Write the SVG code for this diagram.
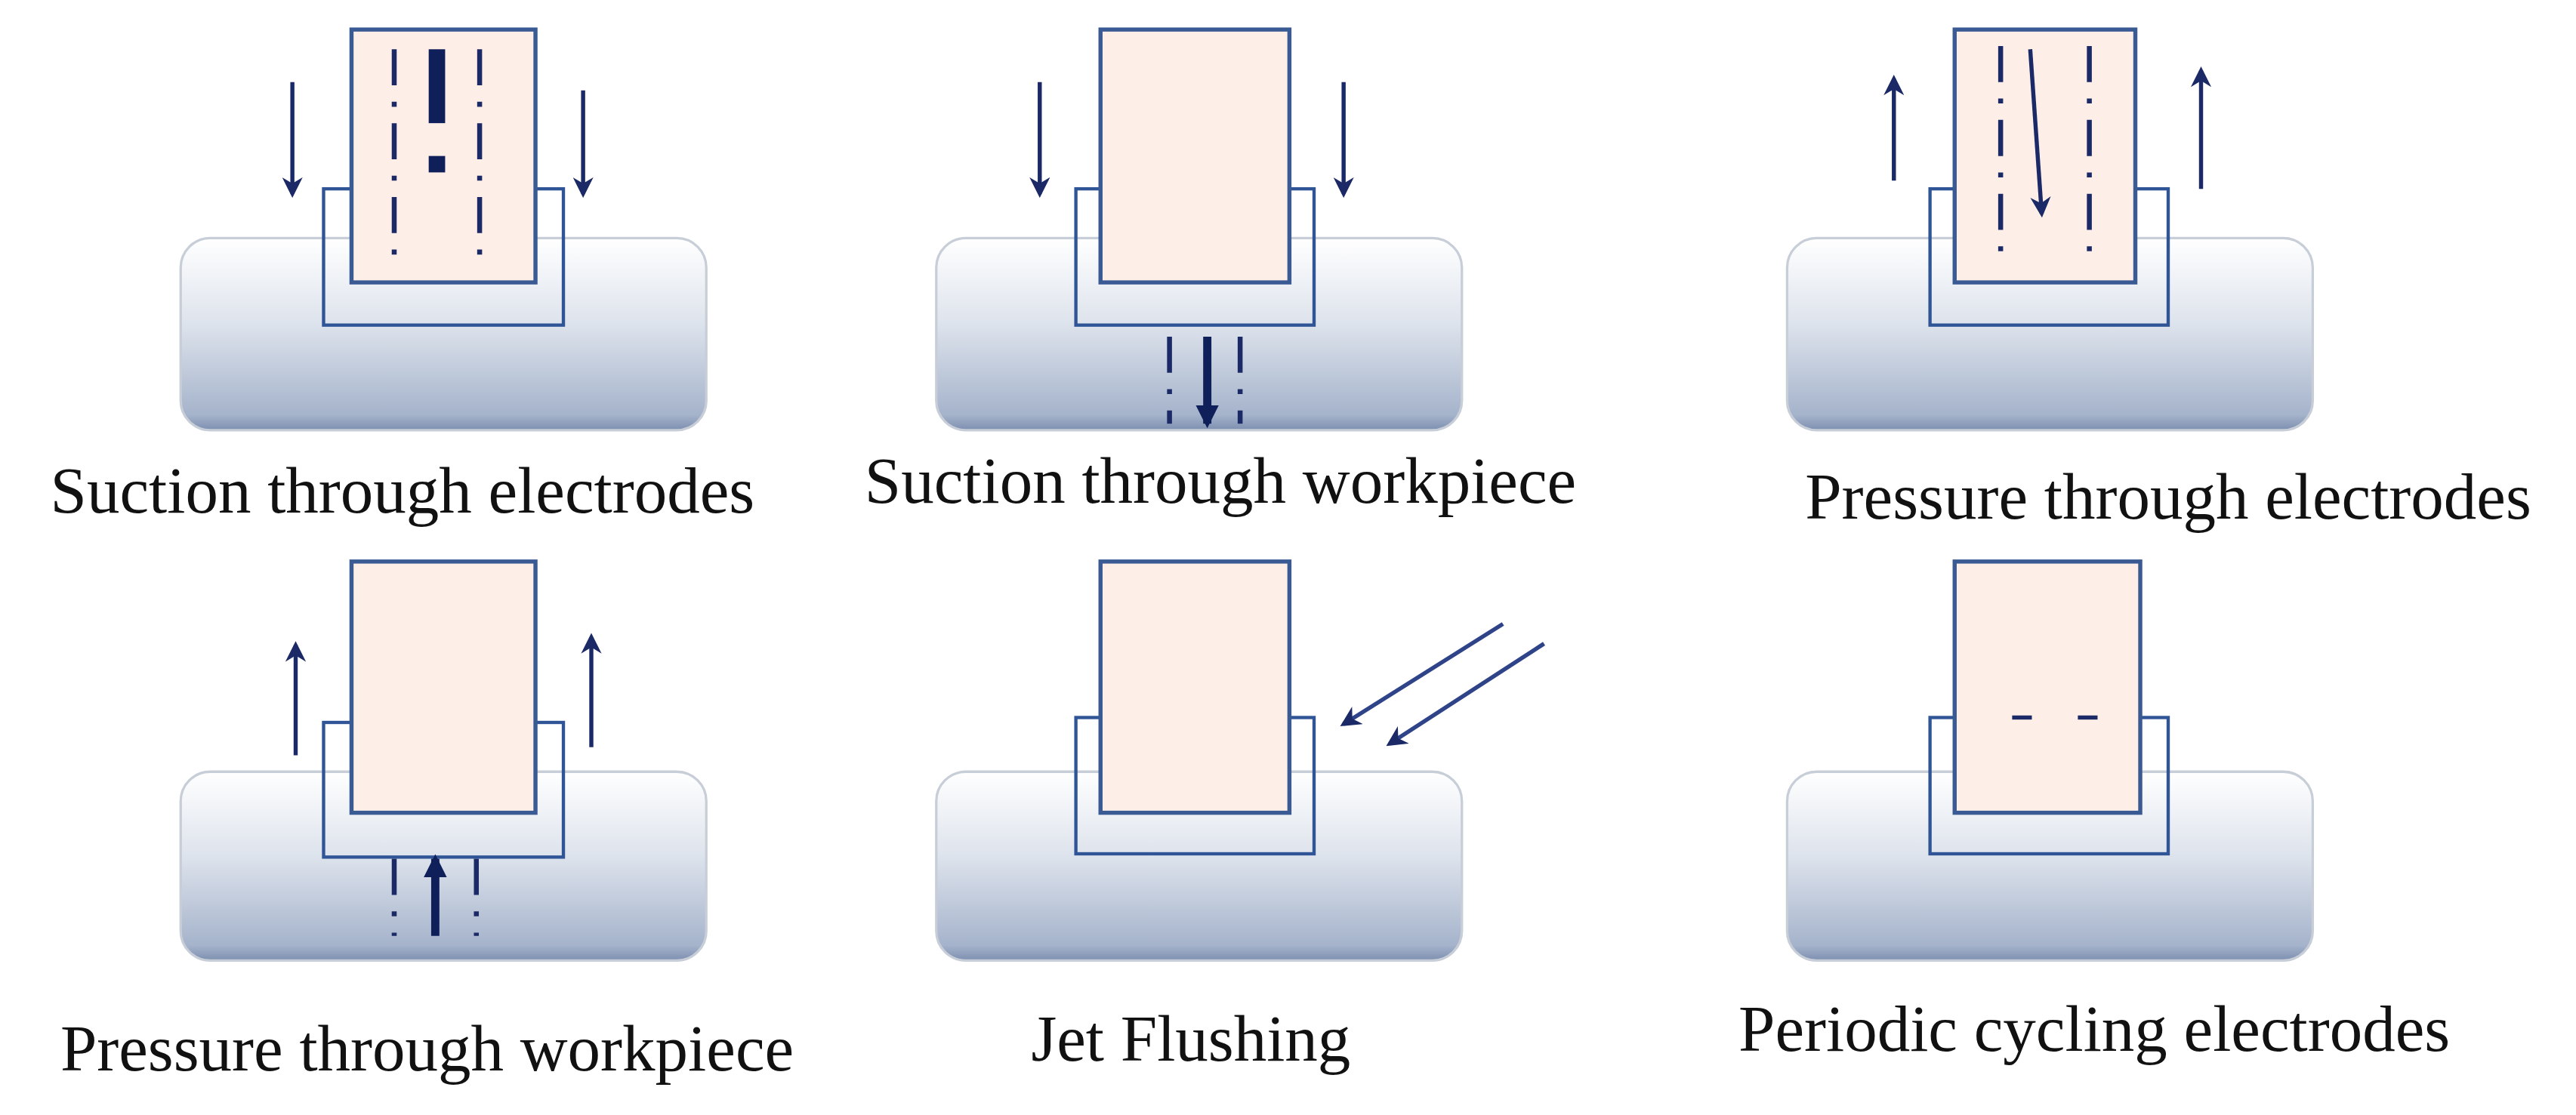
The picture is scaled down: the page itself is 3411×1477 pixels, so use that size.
<svg xmlns="http://www.w3.org/2000/svg" width="3411" height="1477" viewBox="0 0 3411 1477">
<defs>
<linearGradient id="wg" x1="0" y1="0" x2="0" y2="1">
<stop offset="0" stop-color="#ffffff"/><stop offset="0.45" stop-color="#dde3ec"/><stop offset="0.92" stop-color="#a5b3cb"/><stop offset="1" stop-color="#7d8fb0"/>
</linearGradient>
<marker id="ah" viewBox="0 0 10 10" refX="8" refY="5" markerWidth="5" markerHeight="5" orient="auto"><path d="M0,0 L10,5 L0,10 L3,5 z" fill="#1b2a66"/></marker>
<marker id="ahb" viewBox="0 0 10 10" refX="8" refY="5" markerWidth="2.8" markerHeight="2.8" orient="auto"><path d="M0,0 L10,5 L0,10 z" fill="#0f1f5a"/></marker>
<style>
.wp{fill:url(#wg);stroke:#c8ced8;stroke-width:1.5}
.cup{fill:none;stroke:#2f5597;stroke-width:2}
.el{fill:#fdeee8;stroke:#3a5a94;stroke-width:2.5}
.ar{stroke:#1b2a66;stroke-width:2.5;fill:none;marker-end:url(#ah)}
.arj{stroke:#2f4488;stroke-width:2.5;fill:none;marker-end:url(#ah)}
.big{stroke:#0f1f5a;stroke-width:5;fill:none;marker-end:url(#ahb)}
.dd{stroke:#1b2a66;stroke-width:3;stroke-dasharray:22 10 3 10;fill:none}
.lbl{font-family:"Liberation Serif",serif;font-size:40px;fill:#111;text-anchor:middle}
</style>
</defs>
<rect width="3411" height="1477" fill="#fff"/>
<g transform="scale(2.175)">
<g id="n1">
<rect class="wp" x="110" y="145" width="320" height="117" rx="18"/>
<rect class="cup" x="197" y="115" width="146" height="83"/>
<rect class="el" x="214" y="18" width="112" height="154"/>
<line class="dd" x1="240" y1="30" x2="240" y2="160"/><line class="dd" x1="292" y1="30" x2="292" y2="160"/>
<rect x="261" y="30" width="10" height="45" fill="#0f1f5a"/><rect x="261" y="95" width="10" height="10" fill="#0f1f5a"/>
<line class="ar" x1="178" y1="50" x2="178" y2="118"/><line class="ar" x1="355" y1="55" x2="355" y2="118"/>
<text class="lbl" x="245" y="312">Suction through electrodes</text>
</g>
<g id="n2">
<rect class="wp" x="570" y="145" width="320" height="117" rx="18"/>
<rect class="cup" x="655" y="115" width="145" height="83"/>
<rect class="el" x="670" y="18" width="115" height="154"/>
<line class="dd" x1="712" y1="205" x2="712" y2="258"/><line class="dd" x1="755" y1="205" x2="755" y2="258"/>
<line class="big" x1="735" y1="205" x2="735" y2="258"/>
<line class="ar" x1="633" y1="50" x2="633" y2="118"/><line class="ar" x1="818" y1="50" x2="818" y2="118"/>
<text class="lbl" x="743" y="306">Suction through workpiece</text>
</g>
<g id="n3">
<rect class="wp" x="1088" y="145" width="320" height="117" rx="18"/>
<rect class="cup" x="1175" y="115" width="145" height="83"/>
<rect class="el" x="1190" y="18" width="110" height="154"/>
<line class="dd" x1="1218" y1="28" x2="1218" y2="160"/><line class="dd" x1="1272" y1="28" x2="1272" y2="160"/>
<line class="ar" x1="1236" y1="30" x2="1243" y2="130"/>
<line class="ar" x1="1153" y1="110" x2="1153" y2="48"/><line class="ar" x1="1340" y1="115" x2="1340" y2="43"/>
<text class="lbl" x="1320" y="316">Pressure through electrodes</text>
</g>
<g id="n4">
<rect class="wp" x="110" y="470" width="320" height="115" rx="18"/>
<rect class="cup" x="197" y="440" width="146" height="82"/>
<rect class="el" x="214" y="342" width="112" height="153"/>
<line class="dd" x1="240" y1="523" x2="240" y2="570"/><line class="dd" x1="290" y1="523" x2="290" y2="570"/>
<line class="big" x1="265" y1="570" x2="265" y2="523"/>
<line class="ar" x1="180" y1="460" x2="180" y2="393"/><line class="ar" x1="360" y1="455" x2="360" y2="388"/>
<text class="lbl" x="260" y="652">Pressure through workpiece</text>
</g>
<g id="n5">
<rect class="wp" x="570" y="470" width="320" height="115" rx="18"/>
<rect class="cup" x="655" y="437" width="145" height="83"/>
<rect class="el" x="670" y="342" width="115" height="153"/>
<line class="arj" x1="915" y1="380" x2="818" y2="441"/><line class="arj" x1="940" y1="392" x2="846" y2="453"/>
<text class="lbl" x="725" y="646">Jet Flushing</text>
</g>
<g id="n6">
<rect class="wp" x="1088" y="470" width="320" height="115" rx="18"/>
<rect class="cup" x="1175" y="437" width="145" height="83"/>
<rect class="el" x="1190" y="342" width="113" height="153"/>
<line x1="1225" y1="437" x2="1237" y2="437" stroke="#1b2a66" stroke-width="2.5"/><line x1="1265" y1="437" x2="1277" y2="437" stroke="#1b2a66" stroke-width="2.5"/>
<text class="lbl" x="1275" y="640">Periodic cycling electrodes</text>
</g>
</g>
</svg>
